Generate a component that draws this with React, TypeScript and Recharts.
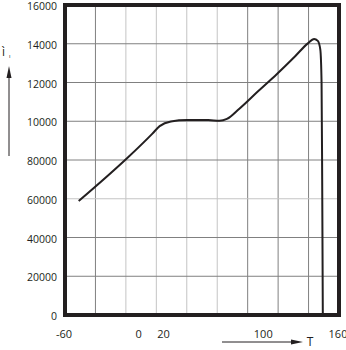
import React from 'react';
import {
  LineChart,
  Line,
  XAxis,
  YAxis,
  CartesianGrid,
  ReferenceArea,
  Label
} from 'recharts';

const temps = [-49, -10, 10, 16, 25, 38, 55, 64, 70, 80, 95, 110, 125, 135, 140, 143, 145, 146, 146.5, 147];
const values = [5880, 8100, 9350, 9750, 9990, 10060, 10060, 10030, 10120, 10650, 11550, 12430, 13370, 14020, 14250, 14150, 13700, 12000, 7000, 50];

const xTicks = [-60, 0, 20, 100, 160];
const yTicks = [0, 2000, 4000, 6000, 8000, 10000, 12000, 14000, 16000];
const yTickLabels = ['0', '20000', '40000', '60000', '80000', '10000', '12000', '14000', '16000'];

const data = temps.map((t, i) => ({ t, v: values[i] }));

const ink = '#231f20';
const font = '"Open Sans", "DejaVu Sans", sans-serif';

const XArrow = (props: any) => {
  const { x, y } = props.viewBox;
  const ay = y + 27;
  return (
    <g>
      <line x1={x + 157} y1={ay} x2={x + 230} y2={ay} stroke={ink} strokeWidth={1} />
      <polygon points={`${x + 238},${ay} ${x + 226},${ay - 2.5} ${x + 226},${ay + 2.5}`} fill={ink} />
      <text x={x + 245} y={ay + 4} fontSize={12} fontFamily={font} fill={ink} textAnchor="middle">T</text>
    </g>
  );
};

const YArrow = () => (
  <g>
    <text x={2} y={56} fontSize={12} fontFamily={font} fill={ink}>ì</text>
    <text x={9} y={58} fontSize={6} fontFamily={font} fill={ink}>ı</text>
    <line x1={9} y1={74} x2={9} y2={156} stroke={ink} strokeWidth={1} />
    <polygon points="9,66 6.5,78 11.5,78" fill={ink} />
  </g>
);

const darkCols = [1, 6, 7, 8];
const lightCols = [2, 3, 4, 5];

const App = () => {
  return (
    <div style={{ position: 'absolute', left: 0, top: 0 }}>
      <LineChart
        width={346}
        height={350}
        data={data}
        margin={{ top: 5, right: 7, bottom: 5, left: 5 }}
      >
        <CartesianGrid
          horizontal={false}
          stroke="#c4c4c4"
          strokeWidth={1}
          verticalCoordinatesGenerator={({ offset }: any) =>
            lightCols.map((k) => offset.left + (offset.width * k) / 9)
          }
        />
        <CartesianGrid
          horizontal={false}
          stroke="#808080"
          strokeWidth={1}
          verticalCoordinatesGenerator={({ offset }: any) =>
            darkCols.map((k) => offset.left + (offset.width * k) / 9)
          }
        />
        <CartesianGrid
          vertical={false}
          stroke="#808080"
          strokeWidth={1}
          horizontalCoordinatesGenerator={({ offset }: any) =>
            yTicks.filter((v) => v !== 6000).map((v) => offset.top + offset.height * (1 - v / 16000))
          }
        />
        <CartesianGrid
          vertical={false}
          stroke="#c4c4c4"
          strokeWidth={1}
          horizontalCoordinatesGenerator={({ offset }: any) => [offset.top + offset.height * (1 - 6000 / 16000)]}
        />
        <XAxis
          dataKey="t"
          type="number"
          domain={[-60, 160]}
          ticks={xTicks}
          interval={0}
          height={30}
          axisLine={false}
          tickLine={false}
          tickMargin={9}
          tick={{ fontSize: 11, fontFamily: font, fill: ink, dx: -1 }}
        >
          <Label content={<XArrow />} />
        </XAxis>
        <YAxis
          type="number"
          domain={[0, 16000]}
          ticks={yTicks}
          interval={0}
          width={60}
          axisLine={false}
          tickLine={false}
          tickFormatter={(v: number, i: number) => yTickLabels[i]}
          tick={{ fontSize: 10.5, fontFamily: font, fill: ink, dy: 1.5 }}
        >
          <Label content={<YArrow />} />
        </YAxis>
        <ReferenceArea
          x1={-60}
          x2={160}
          y1={0}
          y2={16000}
          fill="none"
          fillOpacity={0}
          stroke={ink}
          strokeWidth={4}
        />
        <Line
          type="monotone"
          dataKey="v"
          stroke={ink}
          strokeWidth={2}
          dot={false}
          isAnimationActive={false}
        />
      </LineChart>
    </div>
  );
};

export default App;
